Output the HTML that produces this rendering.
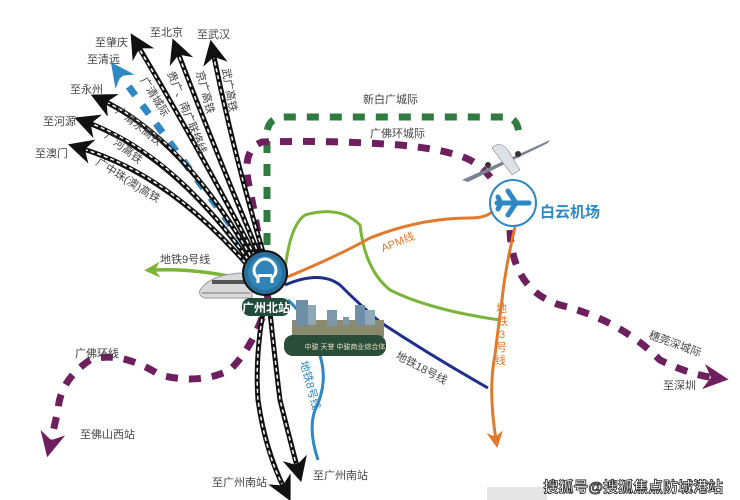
<!DOCTYPE html>
<html><head><meta charset="utf-8">
<style>
html,body{margin:0;padding:0;background:#fff;}
svg{display:block;font-family:"Liberation Sans","Noto Sans CJK SC",sans-serif;}
</style></head>
<body>
<svg width="740" height="500" viewBox="0 0 740 500" xmlns="http://www.w3.org/2000/svg">
<defs>
<marker id="ab" viewBox="0 0 10 10" refX="5" refY="5" markerWidth="5" markerHeight="5" orient="auto" markerUnits="strokeWidth"><path d="M0,0 L10,5 L0,10 L3,5 z" fill="#111"/></marker>
<marker id="ap" viewBox="0 0 10 10" refX="5" refY="5" markerWidth="3.6" markerHeight="3.6" orient="auto" markerUnits="strokeWidth"><path d="M0,0 L10,5 L0,10 L3,5 z" fill="#6e1f5e"/></marker>
<marker id="ag" viewBox="0 0 10 10" refX="5" refY="5" markerWidth="4.5" markerHeight="4.5" orient="auto" markerUnits="strokeWidth"><path d="M0,0 L10,5 L0,10 L3,5 z" fill="#7ab53a"/></marker>
<marker id="ao" viewBox="0 0 10 10" refX="5" refY="5" markerWidth="5.5" markerHeight="5.5" orient="auto" markerUnits="strokeWidth"><path d="M0,0 L10,5 L0,10 L3,5 z" fill="#e07a2c"/></marker>
<marker id="abl" viewBox="0 0 10 10" refX="5" refY="5" markerWidth="3.4" markerHeight="3.4" orient="auto" markerUnits="strokeWidth"><path d="M0,0 L10,5 L0,10 L3,5 z" fill="#2f88c3"/></marker>
</defs>

<path d="M267,268 L267,135 Q267,117 285,117 L505,117 Q518,117 519,135" fill="none" stroke="#2e7d3e" stroke-width="7" stroke-dasharray="12 11"/>
<path d="M268,300 Q260,240 250,190 Q240,150 262,142 Q330,140 400,145 Q450,150 470,160 Q505,180 510,230 Q512,290 560,305 Q620,320 660,360 Q690,375 716,378" fill="none" stroke="#6e1f5e" stroke-width="7" stroke-dasharray="12 11" marker-end="url(#ap)"/>
<path d="M262,318 Q250,350 230,370 Q200,385 160,375 Q120,350 90,360 Q60,380 58,410 L50,445" fill="none" stroke="#6e1f5e" stroke-width="7" stroke-dasharray="12 11" marker-end="url(#ap)"/>

<path d="M245,280 Q200,268 152,270" fill="none" stroke="#7ab53a" stroke-width="3.5" marker-end="url(#ag)"/>
<path d="M285,270 Q290,225 305,215 Q340,205 360,225 Q365,270 390,290 Q430,310 500,320" fill="none" stroke="#7ab53a" stroke-width="3"/>
<path d="M285,278 Q340,255 370,238 Q420,218 470,218 Q485,218 492,212" fill="none" stroke="#e07a2c" stroke-width="3"/>
<path d="M515,227 Q505,270 502,300 Q498,330 495,355 Q488,390 496,440" fill="none" stroke="#e07a2c" stroke-width="3" marker-end="url(#ao)"/>
<path d="M285,285 Q320,270 340,285 Q360,305 380,322 Q430,355 488,388" fill="none" stroke="#1f2f8a" stroke-width="3"/>
<path d="M288,300 Q310,320 318,350 Q330,380 315,410 Q308,430 318,460" fill="none" stroke="#2f88c3" stroke-width="3"/>

<path d="M258,262 Q190,170 118,72" fill="none" stroke="#2f88c3" stroke-width="7" stroke-dasharray="11 12" marker-end="url(#abl)"/>

<g fill="none">
<g stroke="#111" stroke-width="5">
<path d="M258,262 Q200,150 137,44" marker-end="url(#ab)"/>
<path d="M262,262 Q215,150 177,50" marker-end="url(#ab)"/>
<path d="M266,262 Q235,160 213,52" marker-end="url(#ab)"/>
<path d="M254,262 Q185,140 102,100" marker-end="url(#ab)"/>
<path d="M252,265 Q175,155 86,122" marker-end="url(#ab)"/>
<path d="M250,268 Q170,175 80,148" marker-end="url(#ab)"/>
<path d="M263,312 Q255,360 258,400 Q265,450 285,490" marker-end="url(#ab)"/>
<path d="M270,312 Q275,360 280,400 Q290,440 298,470" marker-end="url(#ab)"/>
</g>
<g stroke="#fff" stroke-width="1.5" stroke-dasharray="4 3">
<path d="M258,262 Q200,150 140,50"/>
<path d="M262,262 Q215,150 179,56"/>
<path d="M266,262 Q235,160 214,58"/>
<path d="M254,262 Q185,140 108,103"/>
<path d="M252,265 Q175,155 92,124"/>
<path d="M250,268 Q170,175 86,150"/>
<path d="M263,312 Q255,360 258,400 Q265,450 282,484"/>
<path d="M270,312 Q275,360 280,400 Q290,440 296,464"/>
</g>
</g>

<g>
<path d="M200,290 Q210,275 240,273 L252,276 L252,298 L205,298 Q198,296 200,290 z" fill="#d9d9d9" stroke="#999" stroke-width="1"/>
<rect x="212" y="280" width="34" height="4" fill="#555"/>
<path d="M202,293 L250,293" stroke="#777" stroke-width="1"/>
</g>

<circle cx="265" cy="273" r="22" fill="#2a6f9c" stroke="#111" stroke-width="2"/>
<circle cx="265" cy="273" r="17" fill="#2f85b8"/>
<path d="M258,283 L258,278 Q252,273 255,266 Q259,259 265,259 Q271,259 275,266 Q278,273 272,278 L272,283" fill="none" stroke="#fff" stroke-width="3"/>
<rect x="258" y="274" width="14" height="3" fill="#fff"/>
<rect x="242" y="298" width="48" height="18" rx="8" fill="#1f4d3a"/>
<text x="266" y="312" font-size="12" fill="#fff" text-anchor="middle" font-weight="bold">广州北站</text>

<g>
<rect x="292" y="320" width="92" height="17" fill="#8c8a6e"/>
<rect x="296" y="300" width="12" height="26" fill="#6f8fa6"/>
<rect x="308" y="305" width="8" height="20" fill="#8fa8b8"/>
<rect x="327" y="310" width="10" height="16" fill="#7e98ab"/>
<rect x="343" y="317" width="6" height="8" fill="#7e98ab"/>
<rect x="355" y="305" width="10" height="20" fill="#6f8fa6"/>
<rect x="365" y="310" width="10" height="15" fill="#8fa8b8"/>
<rect x="284" y="335" width="102" height="21" rx="9" fill="#2a4d3a"/>
<text x="345" y="349" font-size="7" fill="#e8e2c0" text-anchor="middle">中骏  天誉  中骏商业综合体</text>
</g>

<circle cx="513" cy="203" r="23" fill="#fff" stroke="#2f88c3" stroke-width="2"/>
<path d="M497,203 L529,203 M516,203 L508,191 M516,203 L508,215 M501,203 L498,197 M501,203 L498,209" stroke="#2f88c3" stroke-width="5" stroke-linecap="round"/>
<text x="540" y="217" font-size="15" fill="#2f88c3" font-weight="bold">白云机场</text>

<g>
<path d="M462,180 L550,140 L548,143 L468,182 z" fill="#7a8290"/>
<path d="M492,148 Q500,140 508,150 L520,170 L512,175 z" fill="#dde2e8" stroke="#888" stroke-width="0.6"/>
<circle cx="488" cy="165" r="3" fill="#333"/><circle cx="518" cy="154" r="3" fill="#333"/>
</g>

<g font-size="11" fill="#444">
<text x="95" y="46">至肇庆</text>
<text x="150" y="36">至北京</text>
<text x="197" y="38">至武汉</text>
<text x="87" y="63">至清远</text>
<text x="70" y="93">至永州</text>
<text x="43" y="125">至河源</text>
<text x="35" y="157">至澳门</text>
<text x="363" y="103">新白广城际</text>
<text x="370" y="137">广佛环城际</text>
<text x="160" y="263">地铁9号线</text>
<text x="75" y="357">广佛环线</text>
<text x="80" y="438">至佛山西站</text>
<text x="212" y="486">至广州南站</text>
<text x="313" y="479">至广州南站</text>
<text x="663" y="389">至深圳</text>
<text transform="translate(648,338) rotate(20)">穗莞深城际</text>
<text transform="translate(395,358) rotate(28)">地铁18号线</text>
<text transform="translate(140,80) rotate(58)">广清城际</text>
<text transform="translate(167,73) rotate(68)">贵广、南广联络线</text>
<text transform="translate(196,72) rotate(75)">京广高铁</text>
<text transform="translate(222,69) rotate(80)">武广高铁</text>
<text transform="translate(115,112) rotate(38)">广清永高铁</text>
<text transform="translate(104,137) rotate(38)">广河高铁</text>
<text transform="translate(95,164) rotate(32)">广中珠(澳)高铁</text>
</g>
<g font-size="11" fill="#e07a2c">
<text transform="translate(383,252) rotate(-22)">APM线</text>
<text x="496" y="312">地</text><text x="497" y="325">铁</text><text x="499" y="338">3</text><text x="496" y="351">号</text><text x="495" y="364">线</text>
</g>
<g font-size="11" fill="#2f88c3">
<text transform="translate(300,362) rotate(75)">地铁8号线</text>
</g>

<rect x="487" y="487" width="60" height="13" fill="#e6e6e6"/>
<text x="723" y="492" font-size="15" fill="#fff" stroke="#222" stroke-width="0.8" text-anchor="end" font-weight="bold">搜狐号@搜狐焦点防城港站</text>
</svg>
</body></html>
